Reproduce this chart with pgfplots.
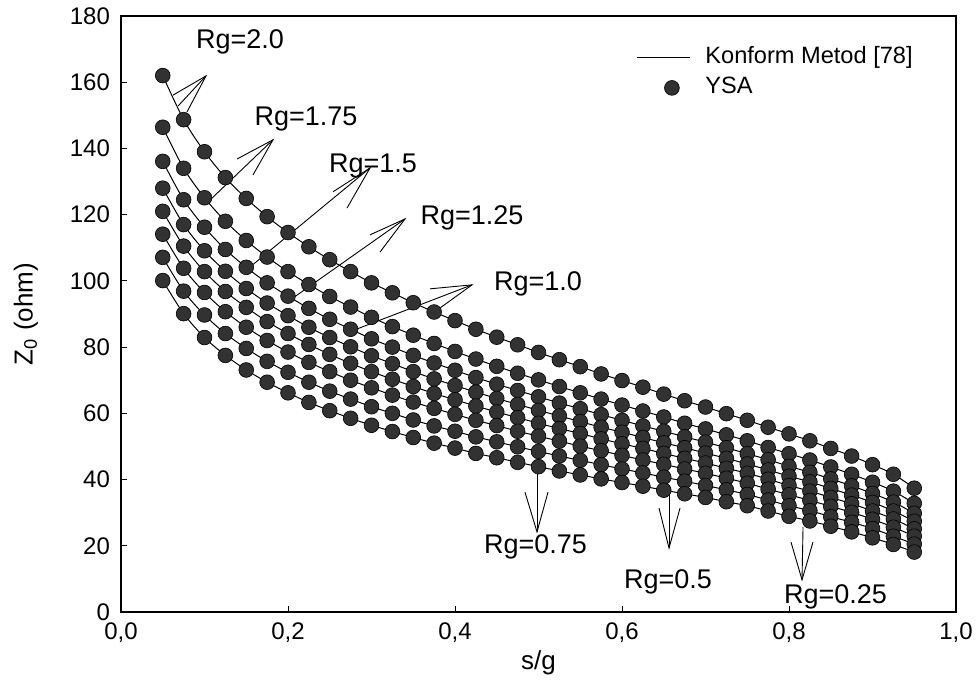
\documentclass[border=0pt]{standalone}
\usepackage{fontspec}
\setmainfont{Liberation Sans}
\usepackage{pgfplots}
\usepackage{pgfplotstable}
\pgfplotsset{compat=1.18}

% Characteristic impedance Z0 (ohm) against s/g, one column per Rg
% c0: Rg=2.0, c1: Rg=1.75, c2: Rg=1.5, c3: Rg=1.25,
% c4: Rg=1.0, c5: Rg=0.75, c6: Rg=0.5, c7: Rg=0.25
\pgfplotstableread{
x     c0    c1    c2    c3    c4    c5    c6    c7
0.050 162.0 146.4 136.1 128.0 121.0 114.1 107.1 100.1
0.075 148.7 134.0 124.5 117.0 110.5 103.8 96.9  90.1
0.100 139.0 125.1 116.2 109.1 102.8 96.5  89.7  82.9
0.125 131.2 118.0 109.5 102.9 96.8  90.7  84.1  77.5
0.150 124.9 112.2 104.1 97.7  92.0  86.0  79.6  73.1
0.175 119.4 107.2 99.4  93.3  87.7  82.0  75.7  69.4
0.200 114.6 102.8 95.4  89.5  84.1  78.5  72.4  66.2
0.225 110.3 98.9  91.7  86.0  80.8  75.4  69.4  63.3
0.250 106.4 95.3  88.4  82.9  77.8  72.6  66.7  60.8
0.275 102.8 92.1  85.4  80.1  75.1  70.0  64.3  58.5
0.300 99.4  89.0  82.5  77.4  72.6  67.7  62.0  56.4
0.325 96.4  86.2  80.0  75.0  70.3  65.5  60.0  54.5
0.350 93.4  83.6  77.5  72.6  68.1  63.4  58.0  52.7
0.375 90.6  81.1  75.2  70.4  66.0  61.5  56.2  51.0
0.400 88.0  78.7  73.0  68.4  64.1  59.7  54.6  49.5
0.425 85.4  76.4  70.8  66.4  62.2  57.9  52.9  47.9
0.450 83.0  74.2  68.8  64.5  60.4  56.3  51.4  46.6
0.475 80.7  72.1  66.9  62.7  58.7  54.6  49.9  45.2
0.500 78.4  70.1  65.0  60.9  57.0  53.1  48.5  43.9
0.525 76.2  68.1  63.1  59.2  55.4  51.6  47.1  42.6
0.550 74.1  66.2  61.4  57.5  53.9  50.1  45.8  41.4
0.575 71.9  64.3  59.6  55.8  52.3  48.7  44.5  40.2
0.600 69.9  62.5  57.9  54.3  50.8  47.3  43.2  39.1
0.625 67.9  60.7  56.2  52.7  49.4  45.9  42.0  38.0
0.650 65.8  58.9  54.6  51.1  47.9  44.6  40.7  36.8
0.675 63.8  57.0  52.9  49.6  46.4  43.2  39.5  35.7
0.700 61.9  55.3  51.3  48.0  45.0  41.9  38.2  34.6
0.725 59.9  53.5  49.6  46.4  43.4  40.4  36.9  33.3
0.750 57.9  51.7  47.8  44.7  41.9  38.9  35.5  32.1
0.775 55.8  49.7  46.0  42.9  40.1  37.1  33.8  30.5
0.800 53.8  47.8  44.0  41.0  38.2  35.4  32.1  28.9
0.825 51.7  45.9  42.2  39.3  36.5  33.7  30.6  27.5
0.850 49.4  43.8  40.2  37.3  34.6  31.9  28.8  25.9
0.875 47.1  41.6  38.1  35.3  32.7  30.1  27.1  24.2
0.900 44.5  39.2  35.8  33.1  30.5  28.0  25.2  22.4
0.925 41.6  36.5  33.2  30.5  28.1  25.6  22.9  20.4
0.950 37.4  32.8  29.8  27.4  25.1  22.9  20.5  18.1
}\zdata

\definecolor{dotfill}{RGB}{50,50,50}

\tikzset{
  curve/.style={black, line width=0.5pt, smooth, no markers},
  dots/.style={only marks, mark=*, mark size=3.7pt,
    mark options={fill=dotfill, draw=black, line width=0.3pt}},
  note/.style={black, line width=0.45pt},
  rglabel/.style={font=\fontsize{13.5}{16}\selectfont, inner sep=0pt},
}

\begin{document}
\begin{tikzpicture}
\useasboundingbox (-60.5pt,-36.5pt) rectangle (428.5pt,306pt);
\begin{axis}[
  at={(0pt,0pt)}, anchor=south west,
  scale only axis, width=417.5pt, height=298pt,
  xmin=0, xmax=1, ymin=0, ymax=180,
  clip=false,
  axis line style={line width=0.6pt},
  xtick={0,0.2,0.4,0.6,0.8,1},
  ytick={0,20,40,60,80,100,120,140,160,180},
  tick align=inside, tick pos=left,
  major tick length=3pt,
  every tick/.style={black, line width=0.5pt},
  /pgf/number format/assume math mode=true,
  xticklabel style={font=\fontsize{12}{14}\selectfont, yshift=-2pt,
    /pgf/number format/.cd, fixed, fixed zerofill, precision=1, use comma},
  yticklabel style={font=\fontsize{12}{14}\selectfont, xshift=-2pt},
  xlabel={s/g},
  ylabel={Z\textsubscript{0} (ohm)},
  label style={font=\fontsize{13}{15}\selectfont},
  xlabel style={at={(axis description cs:0.5,-0.086)}, anchor=center},
  ylabel style={at={(axis description cs:-0.114,0.5)}, anchor=center, rotate=0},
  legend cell align=left,
  legend style={draw=none, fill=none, at={(axis cs:0.6096,172.0)}, anchor=north west,
    font=\fontsize{11.8}{13}\selectfont, row sep=4pt,
    nodes={inner sep=0pt, text height=8.5pt, text depth=2.5pt},
    /tikz/every odd column/.append style={column sep=7.5pt}},
]

% Conformal-mapping curves
\addplot[curve, legend image code/.code={\draw[black, line width=0.5pt] (0pt,0pt) -- (26.5pt,0pt);}]
  table[x=x, y=c0] {\zdata};
\addlegendentry{Konform Metod [78]}
\foreach \c in {c1,c2,c3,c4,c5,c6,c7} {
  \addplot[curve, forget plot] table[x=x, y=\c] {\zdata};
}

% Neural network (YSA) results
\addplot[dots, legend image code/.code={
    \path[draw=none, fill=none] (0pt,0pt) -- (26.5pt,0pt);
    \path[fill=dotfill, draw=black, line width=0.3pt] (17.5pt,0pt) circle (3.7pt);}]
  table[x=x, y=c0] {\zdata};
\addlegendentry{YSA}
\foreach \c in {c1,c2,c3,c4,c5,c6,c7} {
  \addplot[dots, forget plot] table[x=x, y=\c] {\zdata};
}

% Rg annotations
\node[rglabel] at (axis cs:0.1425,172.2) {Rg=2.0};
\draw[note] (axis cs:0.0623,156.1) -- (axis cs:0.1018,161.9) -- (axis cs:0.0790,151.0);
\draw[note] (axis cs:0.0683,152.8) -- (axis cs:0.1018,161.9);

\node[rglabel] at (axis cs:0.2216,148.9) {Rg=1.75};
\draw[note] (axis cs:0.1389,136.8) -- (axis cs:0.1820,142.6) -- (axis cs:0.1581,132.0);
\draw[note] (axis cs:0.1090,125.0) -- (axis cs:0.1820,142.6);

\node[rglabel] at (axis cs:0.3018,134.7) {Rg=1.5};
\draw[note] (axis cs:0.2539,126.9) -- (axis cs:0.2982,134.1) -- (axis cs:0.2707,122.0);
\draw[note] (axis cs:0.1545,104.2) -- (axis cs:0.2982,134.1);

\node[rglabel] at (axis cs:0.4204,119.1) {Rg=1.25};
\draw[note] (axis cs:0.2982,113.9) -- (axis cs:0.3401,118.7) -- (axis cs:0.3102,108.7);
\draw[note] (axis cs:0.2024,94.2) -- (axis cs:0.3401,118.7);

\node[rglabel] at (axis cs:0.4994,99.1) {Rg=1.0};
\draw[note] (axis cs:0.3701,97.6) -- (axis cs:0.4204,98.8) -- (axis cs:0.3820,91.8);
\draw[note] (axis cs:0.2766,84.9) -- (axis cs:0.4204,98.8);

\node[rglabel] at (axis cs:0.4964,19.6) {Rg=0.75};
\draw[note] (axis cs:0.4838,36.2) -- (axis cs:0.4982,24.2) -- (axis cs:0.5114,36.2);
\draw[note] (axis cs:0.4982,42.9) -- (axis cs:0.4982,24.2);

\node[rglabel] at (axis cs:0.6550,9.06) {Rg=0.5};
\draw[note] (axis cs:0.6443,31.4) -- (axis cs:0.6563,19.3) -- (axis cs:0.6695,31.4);
\draw[note] (axis cs:0.6563,38.4) -- (axis cs:0.6563,19.3);

\node[rglabel] at (axis cs:0.8557,4.53) {Rg=0.25};
\draw[note] (axis cs:0.8024,21.1) -- (axis cs:0.8156,9.7) -- (axis cs:0.8287,21.1);
\draw[note] (axis cs:0.8168,25.7) -- (axis cs:0.8156,9.7);
\end{axis}
\end{tikzpicture}
\end{document}
